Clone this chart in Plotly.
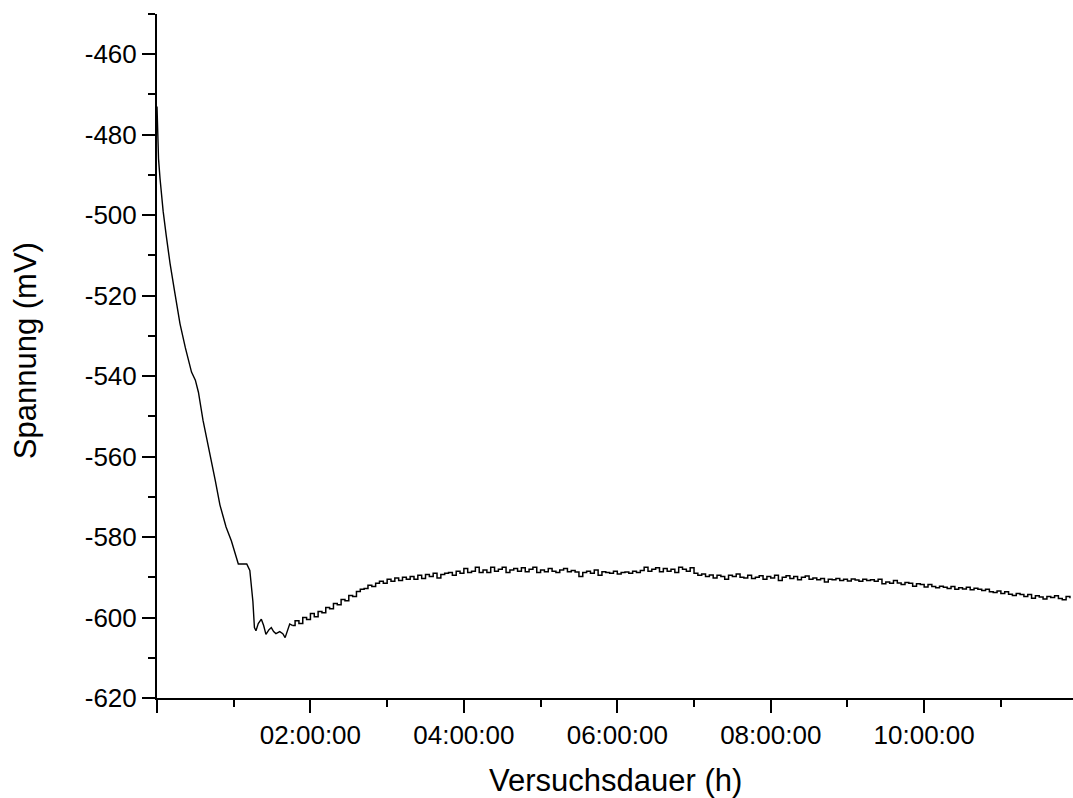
import plotly.graph_objects as go

# Descent phase (hours, mV)
descent_t = [0.000, 0.010, 0.020, 0.040, 0.080, 0.120, 0.170, 0.230, 0.300, 0.370,
             0.450, 0.500, 0.540, 0.600, 0.690, 0.760, 0.820, 0.900, 0.970, 1.030,
             1.060, 1.100, 1.170, 1.210, 1.250, 1.270, 1.290, 1.320, 1.360, 1.390,
             1.420, 1.460, 1.490, 1.520, 1.550, 1.600, 1.640, 1.670, 1.700, 1.730,
             1.770]
descent_v = [-473.0, -480.0, -486.0, -491.0, -499.0, -505.0, -512.0, -519.0, -527.0, -533.0,
             -539.0, -541.0, -544.0, -551.0, -559.0, -566.0, -572.0, -577.5, -581.0, -585.0,
             -586.7, -586.7, -586.7, -588.3, -596.0, -602.5, -603.3, -601.5, -600.4, -602.0,
             -604.2, -603.0, -602.5, -603.5, -604.0, -603.5, -604.0, -605.0, -603.0, -601.6,
             -602.0]

# Logged plateau phase: sampled every 0.05 h starting at 1.80 h
plateau_start = 1.80
plateau_step = 0.05
plateau_v = [
    -600.8, -601.5, -600.0, -600.5, -599.0, -599.8, -598.5, -598.8, -597.5, -597.8,
    -596.5, -596.8, -595.5, -595.8, -594.5, -594.8, -593.5, -593.0, -592.8, -592.0,
    -592.3, -591.5, -591.0, -591.5, -590.5, -591.0, -590.2, -590.8, -590.0, -590.5,
    -589.8, -590.5, -589.5, -590.3, -589.3, -589.8, -589.0, -590.2, -589.3, -589.0,
    -588.8, -589.5, -588.5, -589.0, -587.8, -588.8, -588.5, -587.5, -588.8, -588.2,
    -588.8, -587.5, -588.5, -588.0, -587.5, -588.8, -588.2, -587.8, -588.5, -587.6,
    -588.6, -588.0, -587.5, -588.8, -588.2, -588.6, -587.8, -588.5, -588.8, -588.2,
    -587.8, -588.6, -588.3, -588.7, -589.8, -588.8, -588.5, -589.0, -588.2, -589.5,
    -588.6, -588.8, -589.0, -588.5, -589.2, -588.8, -588.7, -589.0, -588.5, -588.8,
    -588.3, -587.5, -588.5, -588.0, -587.6, -588.6, -587.8, -588.5, -588.0, -588.8,
    -587.5, -588.0, -588.5, -587.6, -589.0, -589.5, -589.2, -589.8, -589.4, -590.2,
    -589.5, -589.8, -590.5, -589.5, -589.8, -589.2, -590.0, -590.2, -589.5, -590.3,
    -590.0, -589.6, -590.5, -589.8, -590.2, -589.5, -590.8, -590.0, -589.6, -590.3,
    -589.8, -590.6, -590.0, -589.7, -590.5, -590.2, -590.6, -590.3, -591.2, -590.5,
    -590.6, -590.3, -590.8, -590.5, -590.9, -590.4, -590.7, -591.0, -590.5, -590.8,
    -590.6, -591.0, -590.5, -591.6, -591.2, -591.5, -590.8, -591.4, -591.8, -591.3,
    -591.5, -592.2, -591.6, -591.8, -592.4, -591.8, -592.3, -592.6, -592.2, -592.5,
    -592.8, -592.3, -593.0, -592.6, -592.9, -592.5, -593.1, -592.7, -593.0, -593.3,
    -593.0, -593.6, -593.8, -593.4, -594.0, -593.6, -594.2, -594.5, -594.0, -594.3,
    -594.8, -594.3, -595.2, -594.6, -594.9, -595.4, -594.8, -595.0, -594.6, -595.3,
    -595.6, -594.8, -595.2,
]
plateau_t = [plateau_start + plateau_step * i for i in range(len(plateau_v))]

x_tickvals = [0, 2, 4, 6, 8, 10]
x_ticktext = ["", "02:00:00", "04:00:00", "06:00:00", "08:00:00", "10:00:00"]
x_minor = [1, 3, 5, 7, 9, 11]
y_tickvals = [-460, -480, -500, -520, -540, -560, -580, -600, -620]
y_ticktext = ["-460", "-480", "-500", "-520", "-540", "-560", "-580", "-600", "-620"]
y_minor = [-450, -470, -490, -510, -530, -550, -570, -590, -610]

fig = go.Figure()
fig.add_trace(go.Scatter(x=descent_t, y=descent_v, mode="lines",
                         line=dict(color="black", width=1.4), showlegend=False))
fig.add_trace(go.Scatter(x=[descent_t[-1]] + plateau_t, y=[descent_v[-1]] + plateau_v,
                         mode="lines", line=dict(color="black", width=1.5, shape="hv"),
                         showlegend=False))

font_family = "Liberation Sans, Arial, sans-serif"
fig.update_layout(
    width=1073, height=798,
    margin=dict(l=157, r=0, t=14, b=100),
    paper_bgcolor="white", plot_bgcolor="white",
    font=dict(family=font_family, color="black"),
    xaxis=dict(
        range=[0, 11.94], showgrid=False, zeroline=False, automargin=False,
        showline=True, linecolor="black", linewidth=2,
        ticks="outside", ticklen=13, tickwidth=2, tickcolor="black",
        tickmode="array", tickvals=x_tickvals, ticktext=x_ticktext,
        tickfont=dict(size=26, family=font_family),
        minor=dict(tickmode="array", tickvals=x_minor, ticks="outside",
                   ticklen=7, tickwidth=2, tickcolor="black"),
    ),
    yaxis=dict(
        range=[-620, -450], showgrid=False, zeroline=False, automargin=False,
        showline=True, linecolor="black", linewidth=2,
        ticks="outside", ticklen=13, tickwidth=2, tickcolor="black",
        tickmode="array", tickvals=y_tickvals, ticktext=y_ticktext,
        tickfont=dict(size=26, family=font_family),
        minor=dict(tickmode="array", tickvals=y_minor, ticks="outside",
                   ticklen=7, tickwidth=2, tickcolor="black"),
    ),
    annotations=[
        dict(text="Versuchsdauer (h)", xref="paper", yref="paper",
             x=0.5, y=-0.1199, xanchor="center", yanchor="middle",
             showarrow=False, font=dict(size=31, family=font_family, color="black")),
        dict(text="Spannung (mV)", xref="paper", yref="paper",
             x=-0.1441, y=0.507, xanchor="center", yanchor="middle", textangle=-90,
             showarrow=False, font=dict(size=31, family=font_family, color="black")),
    ],
)

fig.write_html("out.html",
               config={"displayModeBar": False},
               post_script="document.body.style.margin='0';document.body.style.overflow='hidden';")
